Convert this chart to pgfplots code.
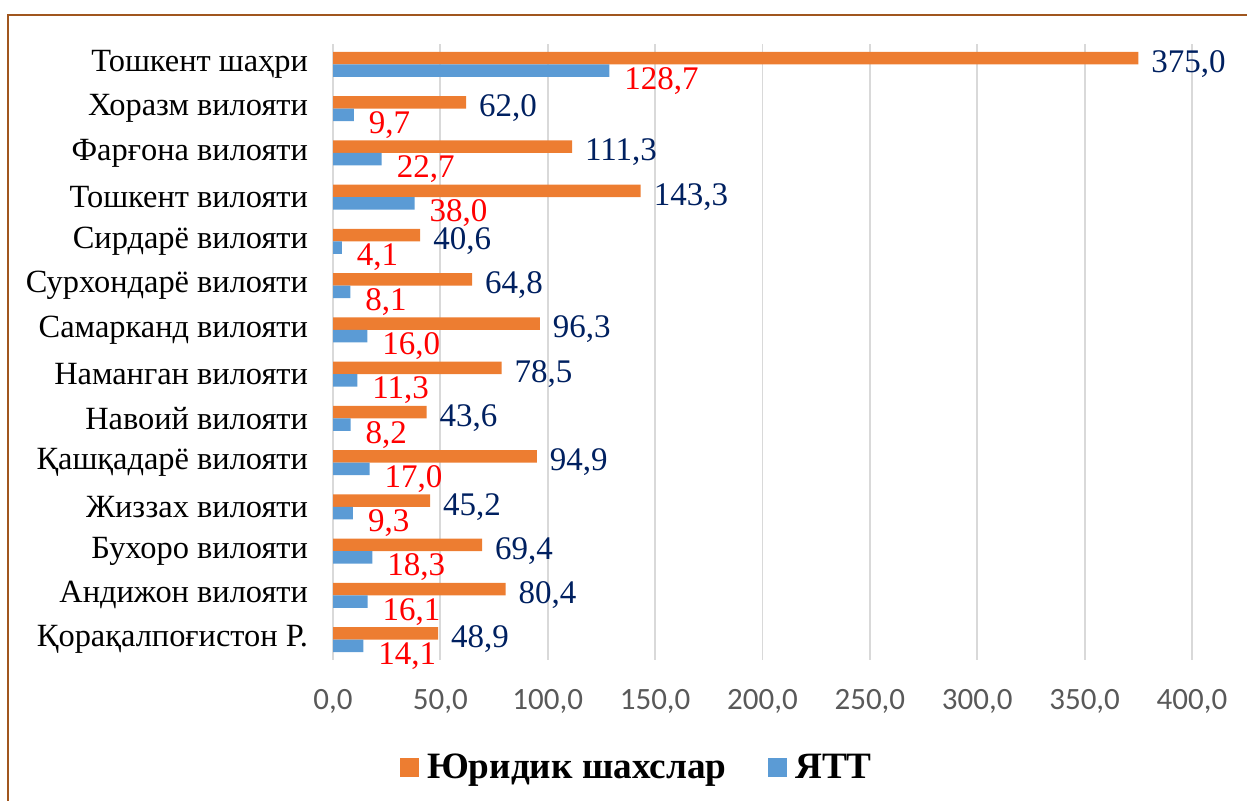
\documentclass[border=0pt]{standalone}
\usepackage{fontspec}
\setmainfont{Liberation Serif}
\newfontfamily\carlito{Carlito}
\usepackage{pgfplots}
\pgfplotsset{compat=1.18}
\definecolor{orangebar}{HTML}{ED7D31}
\definecolor{bluebar}{HTML}{5B9BD5}
\definecolor{navylbl}{HTML}{002060}
\definecolor{framecol}{HTML}{A0561E}
\definecolor{gridcol}{HTML}{D9D9D9}
\definecolor{ticktext}{HTML}{595959}
\begin{document}
\begin{tikzpicture}
\useasboundingbox (0,0) rectangle (623.5pt,400.5pt);
\draw[framecol, line width=1.1pt] (4pt,0) -- (4pt,393pt) -- (623.5pt,393pt);
\begin{axis}[
  at={(166.5pt,70.5pt)}, anchor=south west,
  scale only axis, width=429.5pt, height=308pt,
  xbar, bar width=6.25pt,
  xmin=0, xmax=400, ymin=-0.46, ymax=13.46,
  xtick={0,50,...,400},
  ytick={0,...,13},
  yticklabels={Қорақалпоғистон Р.,Андижон вилояти,Бухоро вилояти,Жиззах вилояти,Қашқадарё вилояти,Навоий вилояти,Наманган вилояти,Самарканд вилояти,Сурхондарё вилояти,Сирдарё вилояти,Тошкент вилояти,Фарғона вилояти,Хоразм вилояти,Тошкент шаҳри},
  major tick length=0pt,
  axis line style={draw=none},
  xmajorgrids, major grid style={gridcol, line width=0.9pt},
  /pgf/number format/assume math mode=true,
  /pgf/number format/fixed,
  /pgf/number format/fixed zerofill,
  /pgf/number format/precision=1,
  /pgf/number format/use comma,
  xticklabel style={font=\carlito\fontsize{15.5}{18}\selectfont, text=ticktext, yshift=-11pt},
  yticklabel style={font=\fontsize{16.2}{19}\selectfont, text=black, xshift=-9pt},
  legend style={at={(0.355,-0.175)}, anchor=center, draw=none, fill=none,
    font=\bfseries\fontsize{18.6}{22}\selectfont, legend columns=2,
    /tikz/every odd column/.append style={column sep=2pt},
    /tikz/every even column/.append style={column sep=19pt}},
  legend image code/.code={\fill[#1] (0pt,-4.75pt) rectangle (9.5pt,4.75pt);},
  nodes near coords={\pgfmathprintnumber{\pgfplotspointmeta}},
  point meta=x,
]
\addplot[fill=orangebar, draw=none, bar shift=3.125pt,
  every node near coord/.append style={anchor=west, xshift=3pt, yshift=-3pt, text=navylbl, font=\fontsize{16.5}{19}\selectfont}]
coordinates {(375.0,13) (62.0,12) (111.3,11) (143.3,10) (40.6,9) (64.8,8) (96.3,7) (78.5,6) (43.6,5) (94.9,4) (45.2,3) (69.4,2) (80.4,1) (48.9,0)};
\addlegendentry{Юридик шахслар}
\addplot[fill=bluebar, draw=none, bar shift=-3.125pt,
  every node near coord/.append style={anchor=west, xshift=4pt, yshift=-5pt, text=red, font=\fontsize{16.5}{19}\selectfont}]
coordinates {(128.7,13) (9.7,12) (22.7,11) (38.0,10) (4.1,9) (8.1,8) (16.0,7) (11.3,6) (8.2,5) (17.0,4) (9.3,3) (18.3,2) (16.1,1) (14.1,0)};
\addlegendentry{ЯТТ}
\end{axis}
\end{tikzpicture}
\end{document}
